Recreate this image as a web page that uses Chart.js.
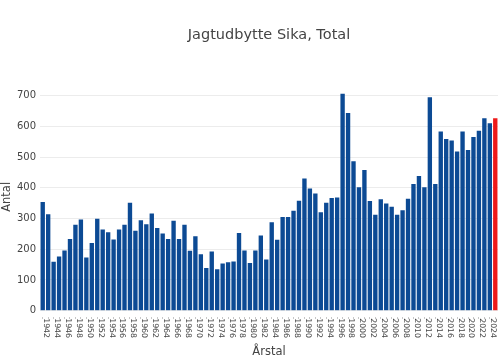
<!DOCTYPE html>
<html><head><meta charset="utf-8">
<script src="https://cdn.jsdelivr.net/npm/chart.js@4"></script>
<style>html,body{margin:0;padding:0;background:#fff;overflow:hidden}</style>
</head><body>
<canvas id="c" width="500" height="361" style="display:block;width:500px;height:361px"></canvas>
<script>
const chartTitle = 'Jagtudbytte Sika, Total';
const yTitle = 'Antal';
const xTitle = 'Årstal';
const years = ['1941','1942','1943','1944','1945','1946','1947','1948','1949','1950',
  '1951','1952','1953','1954','1955','1956','1957','1958','1959','1960',
  '1961','1962','1963','1964','1965','1966','1967','1968','1969','1970',
  '1971','1972','1973','1974','1975','1976','1977','1978','1979','1980',
  '1981','1982','1983','1984','1985','1986','1987','1988','1989','1990',
  '1991','1992','1993','1994','1995','1996','1997','1998','1999','2000',
  '2001','2002','2003','2004','2005','2006','2007','2008','2009','2010',
  '2011','2012','2013','2014','2015','2016','2017','2018','2019','2020',
  '2021','2022','2023','2024'];
const antal = [354,314,159,176,196,233,280,297,173,220,
  299,264,255,232,264,280,351,260,294,281,
  316,269,251,233,293,233,280,195,242,184,
  139,193,135,154,158,160,253,196,155,196,
  245,167,288,231,305,305,325,358,430,398,
  381,320,351,367,368,706,643,486,402,458,
  357,312,363,349,338,312,327,364,412,438,
  402,695,412,583,559,554,518,583,523,565,
  586,626,610,626];
const xTickLabels = ['1942','1944','1946','1948','1950','1952','1954','1956','1958','1960',
  '1962','1964','1966','1968','1970','1972','1974','1976','1978','1980',
  '1982','1984','1986','1988','1990','1992','1994','1996','1998','2000',
  '2002','2004','2006','2008','2010','2012','2014','2016','2018','2020',
  '2022','2024'];
const yTickValues = [0,100,200,300,400,500,600,700];
const yMax = 741;
const highlightYear = '2024';
const FONT = '"DejaVu Sans", Verdana, sans-serif';

const textPlugin = {
  id: 'texts',
  afterDraw(chart) {
    const ctx = chart.ctx, xs = chart.scales.x, ca = chart.chartArea;
    ctx.save();
    ctx.font = '14.5px ' + FONT;
    ctx.fillStyle = '#444';
    ctx.textAlign = 'center';
    ctx.textBaseline = 'alphabetic';
    ctx.fillText(chartTitle, (ca.left + ca.right) / 2, 38.5);
    ctx.font = '7.8px ' + FONT;
    ctx.textAlign = 'left';
    ctx.textBaseline = 'middle';
    xTickLabels.forEach(lbl => {
      const x = xs.getPixelForValue(years.indexOf(lbl));
      ctx.save();
      ctx.translate(x - 2, ca.bottom + 7.5);
      ctx.rotate(Math.PI / 2);
      ctx.fillText(lbl, 0, 0);
      ctx.restore();
    });
    ctx.restore();
  }
};

new Chart(document.getElementById('c'), {
  type: 'bar',
  data: {
    labels: years,
    datasets: [{
      data: antal,
      backgroundColor: ctx => years[ctx.dataIndex] === highlightYear ? '#ee1a1a' : '#0c4a94',
      barPercentage: 0.8,
      categoryPercentage: 1.0
    }]
  },
  options: {
    responsive: false,
    devicePixelRatio: 1,
    animation: false,
    layout: { padding: { left: 0, right: 2, top: 83, bottom: 0 } },
    plugins: {
      legend: { display: false },
      tooltip: { enabled: false },
      title: { display: false }
    },
    scales: {
      x: {
        grid: { display: true, drawOnChartArea: false, offset: false, drawTicks: true,
                tickLength: 9, tickColor: '#c8c8c8', tickBorderDash: [0, 6, 2, 30] },
        border: { display: false },
        ticks: { display: false },
        title: { display: true, text: xTitle, color: '#444',
                 font: { family: FONT, size: 11.5 }, padding: { top: 0, bottom: 2.5 } },
        afterFit: s => { s.height = 50.3; }
      },
      y: {
        min: 0, max: yMax,
        afterBuildTicks: s => { s.ticks = yTickValues.map(v => ({ value: v })); },
        ticks: { color: '#444', font: { family: FONT, size: 10 }, padding: 4 },
        grid: { color: '#ececec', drawTicks: false },
        border: { display: false },
        title: { display: true, text: yTitle, color: '#444',
                 font: { family: FONT, size: 11.5 }, padding: { top: 0, bottom: 0 } },
        afterFit: s => { s.width = 40; }
      }
    }
  },
  plugins: [textPlugin]
});
</script>
</body></html>
